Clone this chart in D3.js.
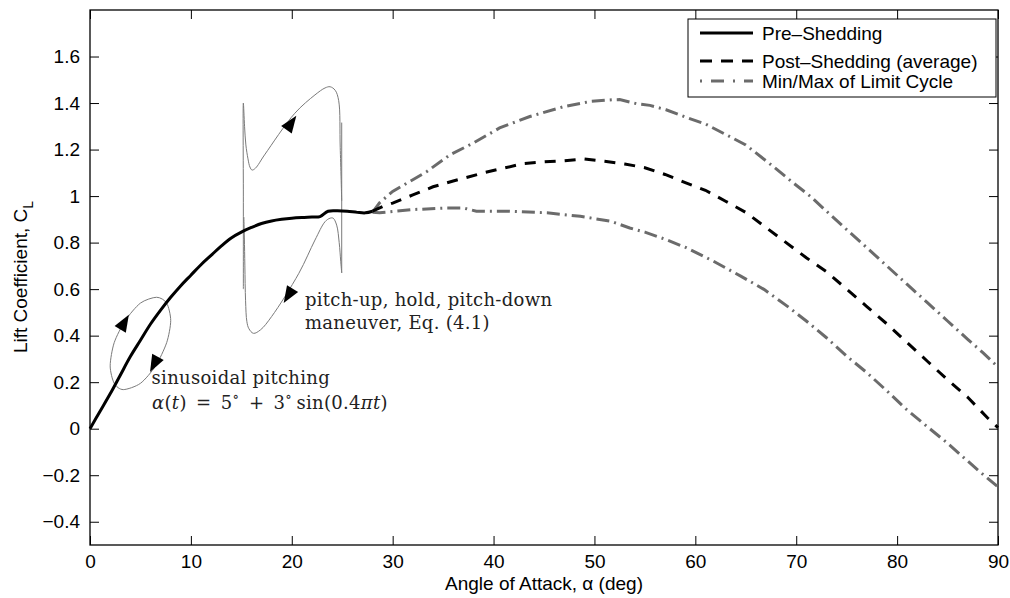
<!DOCTYPE html>
<html>
<head>
<meta charset="utf-8">
<script src="https://cdn.jsdelivr.net/npm/d3@7"></script>
<style>
  body { margin: 0; background: #fff; }
  svg { display: block; }
</style>
</head>
<body>
<div id="chart"></div>
<script>
// tick values
const xTicks = [0, 10, 20, 30, 40, 50, 60, 70, 80, 90];
const yTicks = [-0.4, -0.2, 0, 0.2, 0.4, 0.6, 0.8, 1, 1.2, 1.4, 1.6];

// pre-shedding (steady) lift curve
const preAlpha = [0, 1, 2, 3, 4, 5, 6, 7, 8, 9, 10, 11, 12, 13, 14, 15, 16, 17, 18, 19, 20, 21, 22, 22.8, 23.6, 24.5, 25.5, 26.5, 27.3, 28];
const preCL = [0, 0.075, 0.15, 0.23, 0.31, 0.38, 0.45, 0.51, 0.565, 0.615, 0.66, 0.705, 0.745, 0.785, 0.82, 0.845, 0.865, 0.882, 0.893, 0.9, 0.905, 0.908, 0.91, 0.912, 0.935, 0.937, 0.935, 0.93, 0.928, 0.935];

// post-shedding average
const postAlpha = [28, 29, 30, 32, 34, 36, 37.5, 39, 41, 43, 45, 47, 49, 51, 53, 55, 57, 59, 61, 63, 65, 67, 69, 71, 73, 75, 77, 79, 81, 83, 85, 87, 89, 90];
const postCL = [0.935, 0.955, 0.97, 1.005, 1.04, 1.065, 1.082, 1.1, 1.12, 1.14, 1.147, 1.152, 1.16, 1.15, 1.138, 1.122, 1.093, 1.058, 1.025, 0.978, 0.93, 0.865, 0.8, 0.735, 0.675, 0.6, 0.525, 0.45, 0.37, 0.29, 0.21, 0.135, 0.045, 0.005];

// limit cycle max
const maxAlpha = [28, 28.7, 30, 32, 33.4, 35.7, 38, 40.6, 43.6, 47, 49.6, 51.8, 52.5, 54.2, 55.5, 57.1, 59, 61, 63, 65, 67.7, 69.7, 71.4, 73, 75, 77, 79, 81, 83, 85, 87, 88.5, 90];
const maxCL = [0.93, 0.971, 1.02, 1.07, 1.106, 1.178, 1.228, 1.293, 1.342, 1.385, 1.407, 1.414, 1.415, 1.397, 1.39, 1.371, 1.34, 1.31, 1.265, 1.22, 1.128, 1.057, 0.999, 0.935, 0.856, 0.778, 0.699, 0.62, 0.542, 0.463, 0.384, 0.327, 0.265];

// limit cycle min
const minAlpha = [28, 28.7, 32, 35.4, 37, 38.3, 41.3, 45.3, 48.6, 51.6, 53.5, 55, 57.1, 59.1, 61.8, 64.5, 66.8, 69.1, 71, 73, 75, 77, 79, 80.9, 82.9, 84.9, 86.6, 88.2, 90];
const minCL = [0.93, 0.928, 0.942, 0.949, 0.949, 0.935, 0.935, 0.928, 0.913, 0.892, 0.863, 0.845, 0.813, 0.778, 0.72, 0.656, 0.599, 0.527, 0.463, 0.391, 0.312, 0.241, 0.162, 0.084, 0.012, -0.059, -0.124, -0.185, -0.25];

// sinusoidal pitching loop
const ellipseAlpha = [5.0, 6.6, 7.6, 8.0, 7.6, 6.5, 5.0, 3.3, 2.4, 2.0, 2.4, 3.5];
const ellipseCL = [0.54, 0.565, 0.54, 0.465, 0.37, 0.27, 0.195, 0.168, 0.195, 0.27, 0.37, 0.465];

// pitch-up / hold / pitch-down maneuver
const upAlpha = [15.2, 15.2, 15.2, 15.32, 15.45, 15.66, 15.85, 16.06, 16.4, 17.3, 20.3, 22.3, 23.3, 23.8, 24.3, 24.65, 24.8, 24.95];
const upCL = [0.6, 1.0, 1.4, 1.3, 1.22, 1.16, 1.125, 1.112, 1.12, 1.177, 1.356, 1.435, 1.465, 1.47, 1.455, 1.41, 1.21, 0.98];
const holdAlpha = [24.95, 24.95];
const holdCL = [1.316, 0.67];
const downAlpha = [24.95, 24.85, 24.7, 24.45, 24.1, 23.8, 23.3, 22.3, 20.7, 18.0, 16.9, 16.2, 15.75, 15.55, 15.42, 15.35, 15.3, 15.25];
const downCL = [0.67, 0.72, 0.8, 0.875, 0.905, 0.905, 0.89, 0.811, 0.668, 0.482, 0.425, 0.41, 0.43, 0.46, 0.55, 0.7, 0.82, 0.91];

// arrow heads: tip and a point behind it (alpha, CL)
const arrowHeads = [
  { tip: [3.85, 0.49], from: [2.9, 0.42] },
  { tip: [5.95, 0.244], from: [6.75, 0.31] },
  { tip: [20.45, 1.345], from: [19.3, 1.275] },
  { tip: [19.2, 0.54], from: [20.4, 0.625] }
];

const legendLabels = ["Pre\u2013Shedding", "Post\u2013Shedding (average)", "Min/Max of Limit Cycle"];

const width = 1010, height = 598;
const sans = "'Liberation Sans', Arial, Helvetica, sans-serif";
const serif = "'DejaVu Serif', serif";

const svg = d3.select("#chart").append("svg")
  .attr("width", width)
  .attr("height", height);

const x = d3.scaleLinear().domain([0, 90]).range([90, 998]);
const y = d3.scaleLinear().domain([-0.5, 1.8]).range([545, 10]);

const zip = (a, b) => a.map((v, i) => [v, b[i]]);
const line = d3.line().x(d => x(d[0])).y(d => y(d[1]));
const smooth = d3.line().x(d => x(d[0])).y(d => y(d[1])).curve(d3.curveCatmullRom.alpha(0.5));

// axes (ticks inward, MATLAB box)
const fmt = d3.format("~g");
function styleAxis(g) {
  g.select(".domain").remove();
  g.selectAll(".tick line").attr("stroke", "#000");
  g.attr("font-family", sans).attr("font-size", 19);
  g.selectAll(".tick text").attr("fill", "#000");
}
svg.append("g").attr("transform", "translate(0,545)")
  .call(d3.axisBottom(x).tickValues(xTicks).tickFormat(fmt).tickSizeInner(-9).tickSizeOuter(0).tickPadding(10))
  .call(styleAxis);
svg.append("g").attr("transform", "translate(0,10)")
  .call(d3.axisTop(x).tickValues(xTicks).tickFormat("").tickSizeInner(-9).tickSizeOuter(0))
  .call(styleAxis);
svg.append("g").attr("transform", "translate(90,0)")
  .call(d3.axisLeft(y).tickValues(yTicks).tickFormat(fmt).tickSizeInner(-9).tickSizeOuter(0).tickPadding(10))
  .call(styleAxis);
svg.append("g").attr("transform", "translate(998,0)")
  .call(d3.axisRight(y).tickValues(yTicks).tickFormat("").tickSizeInner(-9).tickSizeOuter(0))
  .call(styleAxis);

svg.append("rect")
  .attr("x", 90).attr("y", 10).attr("width", 908).attr("height", 535)
  .attr("fill", "none").attr("stroke", "#000").attr("stroke-width", 1.3);

// axis labels
svg.append("text")
  .attr("x", 544).attr("y", 590)
  .attr("text-anchor", "middle")
  .attr("font-family", sans).attr("font-size", 19)
  .text("Angle of Attack, \u03b1 (deg)");

const yl = svg.append("text")
  .attr("transform", "translate(27,277) rotate(-90)")
  .attr("text-anchor", "middle")
  .attr("font-family", sans).attr("font-size", 19);
yl.append("tspan").text("Lift Coefficient, C");
yl.append("tspan").attr("dy", 6).attr("font-size", 14).text("L");

const plot = svg.append("g");

// thin gray annotation loops
plot.append("path")
  .attr("d", d3.line().x(d => x(d[0])).y(d => y(d[1])).curve(d3.curveCardinalClosed.tension(0.2))(zip(ellipseAlpha, ellipseCL)))
  .attr("fill", "none").attr("stroke", "#7a7a7a").attr("stroke-width", 1);
[[upAlpha, upCL], [holdAlpha, holdCL], [downAlpha, downCL]].forEach(([a, c]) => {
  plot.append("path")
    .attr("d", smooth(zip(a, c)))
    .attr("fill", "none").attr("stroke", "#7a7a7a").attr("stroke-width", 1);
});

// main curves
plot.append("path")
  .attr("d", line(zip(maxAlpha, maxCL)))
  .attr("fill", "none").attr("stroke", "#6b6b6b").attr("stroke-width", 3)
  .attr("stroke-dasharray", "13,5,2,5");
plot.append("path")
  .attr("d", line(zip(minAlpha, minCL)))
  .attr("fill", "none").attr("stroke", "#6b6b6b").attr("stroke-width", 3)
  .attr("stroke-dasharray", "13,5,2,5");
plot.append("path")
  .attr("d", line(zip(postAlpha, postCL)))
  .attr("fill", "none").attr("stroke", "#000").attr("stroke-width", 3)
  .attr("stroke-dasharray", "11,9");
plot.append("path")
  .attr("d", smooth(zip(preAlpha, preCL)))
  .attr("fill", "none").attr("stroke", "#000").attr("stroke-width", 3);

// arrow heads
arrowHeads.forEach(a => {
  const tx = x(a.tip[0]), ty = y(a.tip[1]);
  const ang = Math.atan2(ty - y(a.from[1]), tx - x(a.from[0])) * 180 / Math.PI;
  plot.append("path")
    .attr("d", "M0,0 L-17,-6.5 L-17,6.5 Z")
    .attr("transform", `translate(${tx},${ty}) rotate(${ang})`)
    .attr("fill", "#000");
});

// annotation text
const note1 = svg.append("g").attr("font-family", serif).attr("font-size", 18)
  .attr("letter-spacing", 0.3).attr("fill", "#222");
note1.append("text").attr("x", x(6.1)).attr("y", y(0.193)).text("sinusoidal pitching");
const eq = note1.append("text").attr("x", x(6.15)).attr("y", y(0.084));
eq.append("tspan").attr("font-style", "italic").text("\u03b1");
eq.append("tspan").text("(");
eq.append("tspan").attr("font-style", "italic").text("t");
eq.append("tspan").text(")\u2002=\u20025");
eq.append("tspan").attr("dy", -8).attr("font-size", 14).text("\u2218");
eq.append("tspan").attr("dy", 8).text("\u2002+\u20023");
eq.append("tspan").attr("dy", -8).attr("font-size", 14).text("\u2218");
eq.append("tspan").attr("dy", 8).text("\u2009sin(0.4");
eq.append("tspan").attr("font-style", "italic").text("\u03c0t");
eq.append("tspan").text(")");

note1.append("text").attr("x", x(21.3)).attr("y", y(0.528)).text("pitch-up, hold, pitch-down");
note1.append("text").attr("x", x(21.3)).attr("y", y(0.428)).text("maneuver, Eq. (4.1)");

// legend
const lg = svg.append("g");
lg.append("rect")
  .attr("x", 688).attr("y", 19).attr("width", 308).attr("height", 78)
  .attr("fill", "#fff").attr("stroke", "#000").attr("stroke-width", 1);
const legendRows = [33, 61, 81];
const legendStyles = [
  { stroke: "#000", dash: null },
  { stroke: "#000", dash: "12,9" },
  { stroke: "#6b6b6b", dash: "2,9,13,9" }
];
legendLabels.forEach((lab, i) => {
  lg.append("line")
    .attr("x1", 700).attr("x2", 753)
    .attr("y1", legendRows[i]).attr("y2", legendRows[i])
    .attr("stroke", legendStyles[i].stroke).attr("stroke-width", 3)
    .attr("stroke-dasharray", legendStyles[i].dash);
  lg.append("text")
    .attr("x", 762).attr("y", legendRows[i]).attr("dy", "0.36em")
    .attr("font-family", sans).attr("font-size", 19)
    .text(lab);
});
</script>
</body>
</html>
